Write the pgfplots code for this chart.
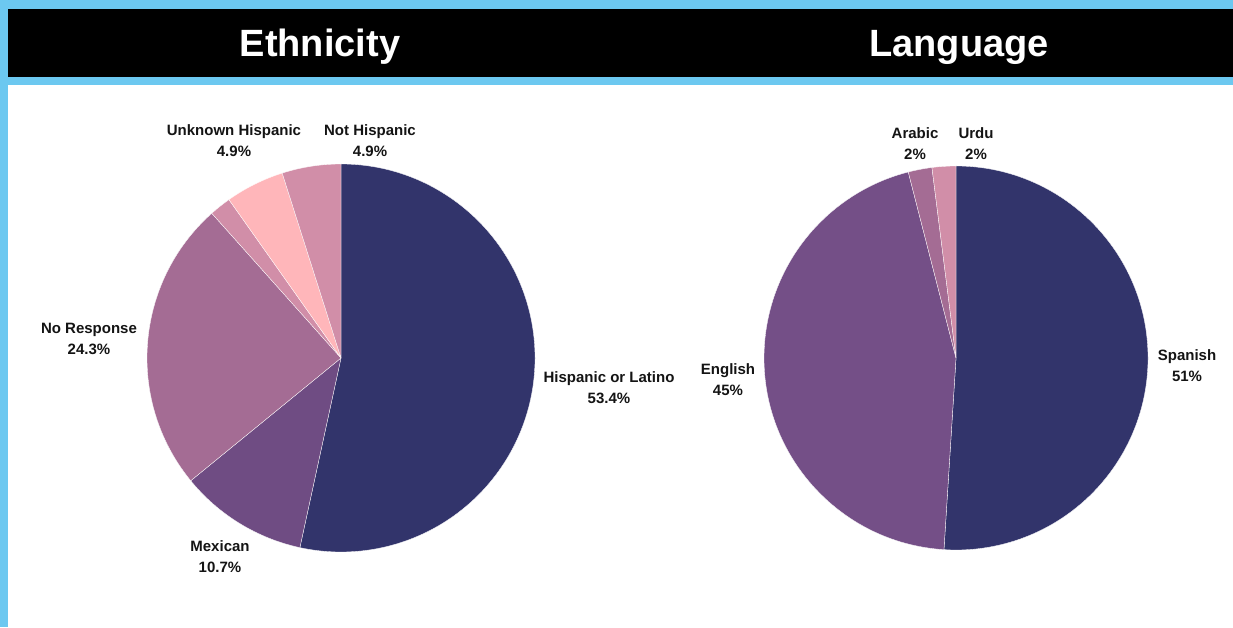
\documentclass[border=0pt]{standalone}
\usepackage{fontspec}
\setmainfont{Liberation Sans}
\usepackage{pgfplots}
\usepackage{pgfplotstable}
\pgfplotsset{compat=1.18}

\definecolor{frameblue}{HTML}{6CC8F0}

% value, colour, label x, label y (y measured upward), label text
\pgfplotstableread[col sep=comma,string type]{
value,color,lx,ly,label
53.4,32346B,609,239,Hispanic or Latino\\53.4\%
10.7,6F4C83,220,70,Mexican\\10.7\%
24.3,A46C94,89,288,No Response\\24.3\%
1.8,D18EA8,0,0,
4.9,FFB6BA,234,486,Unknown Hispanic\\4.9\%
4.9,D18EA8,370,486,Not Hispanic\\4.9\%
}\ethtable

\pgfplotstableread[col sep=comma,string type]{
value,color,lx,ly,label
51,32346B,1187,261,Spanish\\51\%
45,744F87,728,247,English\\45\%
2,A46C94,915,483,Arabic\\2\%
2,D18EA8,976,483,Urdu\\2\%
}\langtable

\newcommand\piesetup[2]{%
  \pgfplotstablegetrowsof{#1}%
  \pgfmathtruncatemacro\lastrow{\pgfplotsretval-1}%
  \def\acc{90}%
  \pgfplotsforeachungrouped \i in {0,...,\lastrow}{%
    \pgfplotstablegetelem{\i}{value}\of{#1}%
    \pgfmathsetmacro\nacc{\acc-3.6*\pgfplotsretval}%
    \expandafter\global\expandafter\let\csname #2s\i\endcsname\acc
    \expandafter\global\expandafter\let\csname #2e\i\endcsname\nacc
    \pgfplotstablegetelem{\i}{color}\of{#1}%
    \edef\tmp{\noexpand\definecolor{#2col\i}{HTML}{\pgfplotsretval}}\tmp
    \pgfplotstablegetelem{\i}{lx}\of{#1}%
    \expandafter\global\expandafter\let\csname #2x\i\endcsname\pgfplotsretval
    \pgfplotstablegetelem{\i}{ly}\of{#1}%
    \expandafter\global\expandafter\let\csname #2y\i\endcsname\pgfplotsretval
    \pgfplotstablegetelem{\i}{label}\of{#1}%
    \expandafter\global\expandafter\let\csname #2l\i\endcsname\pgfplotsretval
    \let\acc\nacc
  }%
}

\begin{document}
\piesetup{\ethtable}{eth}%
\piesetup{\langtable}{lang}%
\begin{tikzpicture}[
  lbl/.style={font=\fontsize{15}{21}\selectfont\bfseries, align=center, text=black!92, inner sep=0pt},
  ttl/.style={font=\fontsize{38}{44}\selectfont\bfseries, text=white, inner sep=0pt, anchor=base}]
\begin{axis}[
  width=1233pt, height=627pt, scale only axis,
  xmin=0, xmax=1233, ymin=0, ymax=627,
  hide axis, clip=false]
  % background frame
  \fill[frameblue] (axis cs:0,0) rectangle (axis cs:1233,627);
  \fill[white] (axis cs:8,0) rectangle (axis cs:1233,542);
  \fill[black] (axis cs:8,550) rectangle (axis cs:1233,618);
  \node[ttl] at (axis cs:320,570) {Ethnicity};
  \node[ttl] at (axis cs:959,570) {Language};
  % Ethnicity pie
  \pgfplotsinvokeforeach{0,...,5}{
    \fill[fill=ethcol#1, draw=white, line width=0.3pt, line join=round]
      (axis cs:341,269) -- ++(\csname eths#1\endcsname:194pt)
      arc[start angle=\csname eths#1\endcsname, end angle=\csname ethe#1\endcsname, radius=194pt] -- cycle;
  }
  \pgfplotsinvokeforeach{0,1,2,4,5}{
    \node[lbl] at (axis cs:\csname ethx#1\endcsname,\csname ethy#1\endcsname) {\csname ethl#1\endcsname};
  }
  % Language pie
  \pgfplotsinvokeforeach{0,...,3}{
    \fill[fill=langcol#1, draw=white, line width=0.3pt, line join=round]
      (axis cs:956,269) -- ++(\csname langs#1\endcsname:192pt)
      arc[start angle=\csname langs#1\endcsname, end angle=\csname lange#1\endcsname, radius=192pt] -- cycle;
    \node[lbl] at (axis cs:\csname langx#1\endcsname,\csname langy#1\endcsname) {\csname langl#1\endcsname};
  }
\end{axis}
\end{tikzpicture}
\end{document}
